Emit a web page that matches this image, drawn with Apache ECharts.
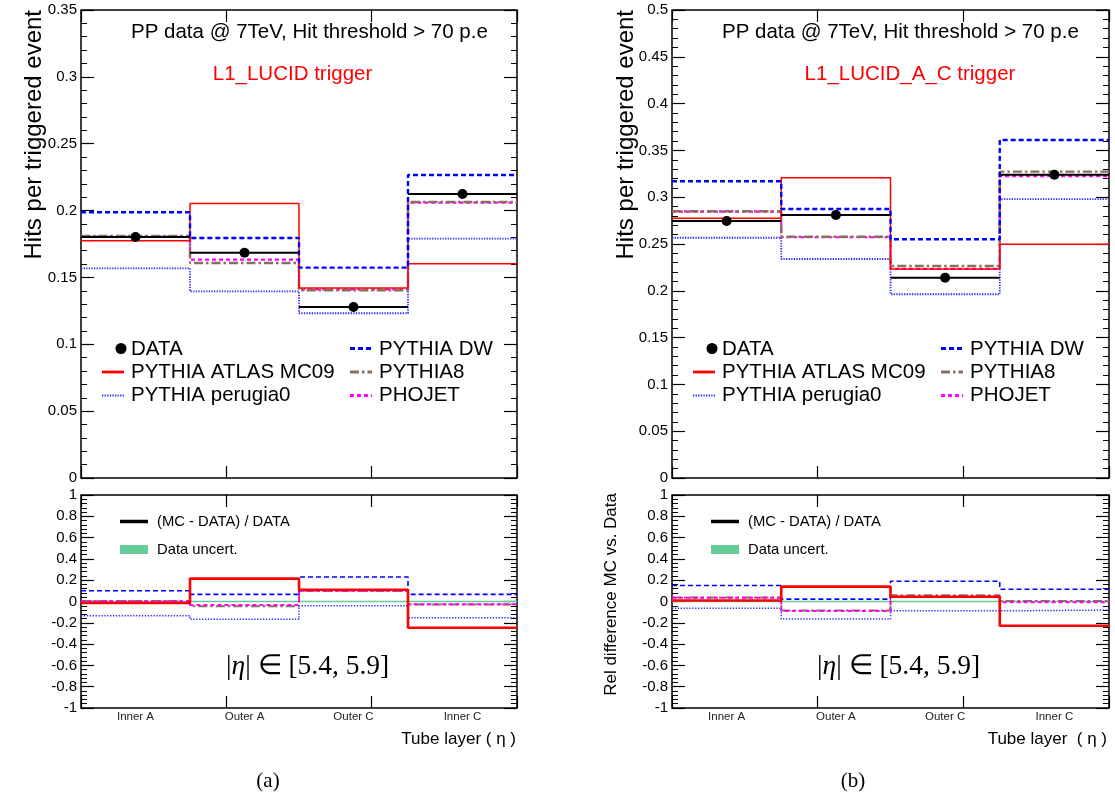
<!DOCTYPE html>
<html><head><meta charset="utf-8">
<script src="https://cdn.jsdelivr.net/npm/echarts@6/dist/echarts.min.js"></script>
<style>html,body{margin:0;padding:0;background:#fff}#c{width:1115px;height:796px}</style>
</head><body><div id="c"></div><script>
// ---------- DATA ----------
const categories = ['Inner A', 'Outer A', 'Outer C', 'Inner C'];

// (a) L1_LUCID trigger : hits per triggered event
const dataA    = [0.1802, 0.1685, 0.1279, 0.2124];
const mc09A    = [0.1775, 0.2052, 0.1421, 0.1603];
const dwA      = [0.1987, 0.1795, 0.1573, 0.2266];
const perugiaA = [0.1568, 0.1396, 0.1232, 0.1790];
const pythia8A = [0.1810, 0.1608, 0.1404, 0.2064];
const phojetA  = [0.1805, 0.1633, 0.1410, 0.2059];
// (a) relative difference (MC - DATA) / DATA
const relMc09A    = [-0.014, 0.215, 0.111, -0.246];
const relDwA      = [0.101, 0.067, 0.230, 0.067];
const relPerugiaA = [-0.133, -0.167, -0.040, -0.152];
const relPythia8A = [0.004, -0.045, 0.098, -0.028];
const relPhojetA  = [0.002, -0.032, 0.102, -0.026];
const uncertA     = [0.004, 0.004, 0.004, 0.004];

// (b) L1_LUCID_A_C trigger
const dataB    = [0.2746, 0.2810, 0.2140, 0.3240];
const mc09B    = [0.2775, 0.3209, 0.2233, 0.2497];
const dwB      = [0.3170, 0.2874, 0.2550, 0.3611];
const perugiaB = [0.2567, 0.2340, 0.1963, 0.2980];
const pythia8B = [0.2850, 0.2578, 0.2265, 0.3273];
const phojetB  = [0.2845, 0.2572, 0.2235, 0.3226];
const relMc09B    = [0.010, 0.140, 0.045, -0.228];
const relDwB      = [0.150, 0.022, 0.190, 0.115];
const relPerugiaB = [-0.064, -0.165, -0.088, -0.080];
const relPythia8B = [0.038, -0.085, 0.058, 0.005];
const relPhojetB  = [0.035, -0.090, 0.045, -0.008];
const uncertB     = [0.004, 0.004, 0.004, 0.004];

// tick labels / axis ranges
const topRangeA = {min: 0, max: 0.35, interval: 0.05, minor: 0.01};
const topRangeB = {min: 0, max: 0.5, interval: 0.05, minor: 0.01};
const ratioRange = {min: -1, max: 1, interval: 0.2, minor: 0.04};

// ---------- STYLE ----------
const SANS = 'Liberation Sans, Arial, Helvetica, sans-serif';
const SERIF = 'Liberation Serif, Times New Roman, serif';
const COL = {data:'#000000', mc09:'#ff0000', dw:'#0000ff', perugia:'#2a2aff', pythia8:'#8c6e5c', phojet:'#ff00ff', uncert:'#66cc99'};
const topStyle = {
  perugia: {color: COL.perugia, width: 1.8, type: [1.3, 1.3]},
  phojet:  {color: COL.phojet,  width: 2.2, type: [4, 3]},
  pythia8: {color: COL.pythia8, width: 2.4, type: [9, 3, 2.5, 3]},
  mc09:    {color: COL.mc09,    width: 1.5, type: 'solid'},
  dw:      {color: COL.dw,      width: 2.4, type: [5, 3]}
};
const ratioStyle = {
  perugia: {color: COL.perugia, width: 1.5, type: [1.3, 1.6]},
  phojet:  {color: COL.phojet,  width: 2.0, type: [4, 3]},
  pythia8: {color: COL.pythia8, width: 2.0, type: [9, 3, 2.5, 3]},
  mc09:    {color: COL.mc09,    width: 2.6, type: 'solid'},
  dw:      {color: COL.dw,      width: 1.6, type: [5, 3]}
};

const grids = [
  {left: 81,  top: 10,  width: 436, height: 468, ratio: false, range: topRangeA},
  {left: 81,  top: 495, width: 436, height: 213, ratio: true,  range: ratioRange},
  {left: 672, top: 10,  width: 437, height: 468, ratio: false, range: topRangeB},
  {left: 672, top: 495, width: 437, height: 213, ratio: true,  range: ratioRange}
];

const NOLINE = {show: false, onZero: false};
const xAxes = [], yAxes = [], series = [];
const dataAxisIdx = [], yIdx = [];
grids.forEach((g, gi) => {
  dataAxisIdx.push(xAxes.length);
  xAxes.push({gridIndex: gi, type: 'value', min: 0, max: 4, show: false, axisLine: NOLINE});
  ['bottom', 'top'].forEach(pos => xAxes.push({
    gridIndex: gi, type: 'value', min: 0, max: 3, interval: 1, position: pos,
    axisLine: NOLINE, axisLabel: {show: false}, splitLine: {show: false},
    axisTick: {show: true, inside: true, length: 12, lineStyle: {color: '#000', width: 1.2}}
  }));
  if (g.ratio) xAxes.push({
    gridIndex: gi, type: 'category', data: categories, position: 'bottom', boundaryGap: true,
    axisLine: NOLINE, axisTick: {show: false}, splitLine: {show: false},
    axisLabel: {show: true, color: '#222', fontSize: 11.5, fontFamily: SANS, margin: 3}
  });
  yIdx.push(yAxes.length);
  ['left', 'right'].forEach(pos => {
    // major ticks (+ labels on the left)
    yAxes.push({
      gridIndex: gi, type: 'value', min: g.range.min, max: g.range.max, interval: g.range.interval, position: pos,
      axisLine: NOLINE, splitLine: {show: false},
      axisTick: {show: true, inside: true, length: 13, lineStyle: {color: '#000', width: 1.2}},
      axisLabel: {show: pos === 'left', color: '#000', fontSize: 15, fontFamily: SANS, margin: 4}
    });
    // minor ticks
    yAxes.push({
      gridIndex: gi, type: 'value', min: g.range.min, max: g.range.max, interval: g.range.minor, position: pos,
      axisLine: NOLINE, splitLine: {show: false}, axisLabel: {show: false},
      axisTick: {show: true, inside: true, length: 6, lineStyle: {color: '#000', width: 1}}
    });
  });
});

function stepData(vals) {
  const d = [];
  vals.forEach((v, i) => { d.push([i, v]); d.push([i + 1, v]); });
  return d;
}
function stepSeries(name, vals, st, gi, z) {
  return {
    type: 'line', name: name, xAxisIndex: dataAxisIdx[gi], yAxisIndex: yIdx[gi],
    data: stepData(vals), symbol: 'none', showSymbol: false, silent: true, animation: false, z: z,
    lineStyle: {color: st.color, width: st.width, type: st.type, cap: 'butt'}
  };
}
function dataSeries(vals, gi) {
  return {
    type: 'custom', name: 'DATA', xAxisIndex: dataAxisIdx[gi], yAxisIndex: yIdx[gi], z: 20,
    data: vals.map((v, i) => [i, v]), animation: false, silent: true,
    renderItem: (params, api) => {
      const i = api.value(0), v = api.value(1);
      const a = api.coord([i, v]), b = api.coord([i + 1, v]), c = api.coord([i + 0.5, v]);
      return {type: 'group', children: [
        {type: 'line', shape: {x1: a[0], y1: a[1], x2: b[0], y2: b[1]}, style: {stroke: COL.data, lineWidth: 2}},
        {type: 'circle', shape: {cx: c[0], cy: c[1], r: 5}, style: {fill: COL.data}}
      ]};
    }
  };
}
function uncertSeries(vals, gi) {
  return {
    type: 'custom', name: 'Data uncert.', xAxisIndex: dataAxisIdx[gi], yAxisIndex: yIdx[gi], z: 1,
    data: vals.map((u, i) => [i, u]), animation: false, silent: true,
    renderItem: (params, api) => {
      const i = api.value(0), u = api.value(1);
      const a = api.coord([i, u]), b = api.coord([i + 1, -u]);
      const h = Math.max(1.5, b[1] - a[1]);
      const cy = (a[1] + b[1]) / 2;
      return {type: 'rect', shape: {x: a[0], y: cy - h / 2, width: b[0] - a[0], height: h}, style: {fill: COL.uncert}};
    }
  };
}
function topPanel(gi, d, mc09, dw, per, p8, pho) {
  series.push(stepSeries('PYTHIA perugia0', per, topStyle.perugia, gi, 3));
  series.push(stepSeries('PHOJET', pho, topStyle.phojet, gi, 4));
  series.push(stepSeries('PYTHIA8', p8, topStyle.pythia8, gi, 5));
  series.push(stepSeries('PYTHIA ATLAS MC09', mc09, topStyle.mc09, gi, 6));
  series.push(stepSeries('PYTHIA DW', dw, topStyle.dw, gi, 7));
  series.push(dataSeries(d, gi));
}
function ratioPanel(gi, unc, mc09, dw, per, p8, pho) {
  series.push(uncertSeries(unc, gi));
  series.push(stepSeries('PYTHIA perugia0', per, ratioStyle.perugia, gi, 3));
  series.push(stepSeries('PYTHIA8', p8, ratioStyle.pythia8, gi, 4));
  series.push(stepSeries('PHOJET', pho, ratioStyle.phojet, gi, 5));
  series.push(stepSeries('PYTHIA DW', dw, ratioStyle.dw, gi, 6));
  series.push(stepSeries('PYTHIA ATLAS MC09', mc09, ratioStyle.mc09, gi, 7));
}
topPanel(0, dataA, mc09A, dwA, perugiaA, pythia8A, phojetA);
ratioPanel(1, uncertA, relMc09A, relDwA, relPerugiaA, relPythia8A, relPhojetA);
topPanel(2, dataB, mc09B, dwB, perugiaB, pythia8B, phojetB);
ratioPanel(3, uncertB, relMc09B, relDwB, relPerugiaB, relPythia8B, relPhojetB);

// ---------- TEXT / LEGENDS (graphic) ----------
const graphics = [];
function txt(x, y, text, opt) {
  graphics.push(Object.assign({type: 'text', x: x, y: y, silent: true, z: 50,
    style: Object.assign({text: text, fill: '#000', fontFamily: SANS, fontSize: 20.5, align: 'left', verticalAlign: 'middle'}, opt || {})}));
}
function seg(x1, x2, y, st, w) {
  graphics.push({type: 'line', silent: true, z: 50, shape: {x1: x1, y1: y, x2: x2, y2: y},
    style: {stroke: st.color, lineWidth: w || st.width, lineDash: st.type === 'solid' ? null : st.type}});
}
function panelText(x0, trig, trigCx, tubeText) {
  txt(x0 + 50, 32, 'PP data @ 7TeV, Hit threshold > 70 p.e');
  txt(trigCx, 74, trig, {fill: '#ff0000', align: 'center'});
  // top legend
  graphics.push({type: 'circle', silent: true, z: 50, shape: {cx: x0 + 40, cy: 348.5, r: 5.5}, style: {fill: '#000'}});
  txt(x0 + 50, 349, 'DATA');
  seg(x0 + 21, x0 + 43, 372, topStyle.mc09, 2.8);
  txt(x0 + 50, 372, 'PYTHIA ATLAS MC09');
  seg(x0 + 21, x0 + 43, 395.5, topStyle.perugia, 2);
  txt(x0 + 50, 395.5, 'PYTHIA perugia0');
  seg(x0 + 269, x0 + 291, 348.5, topStyle.dw, 2.8);
  txt(x0 + 298, 349, 'PYTHIA DW');
  seg(x0 + 269, x0 + 291, 372, topStyle.pythia8, 2.8);
  txt(x0 + 298, 372, 'PYTHIA8');
  seg(x0 + 269, x0 + 291, 395.5, topStyle.phojet, 2.8);
  txt(x0 + 298, 395.5, 'PHOJET');
  // ratio legend
  seg(x0 + 39, x0 + 67, 521.5, {color: '#000', width: 3.5, type: 'solid'});
  txt(x0 + 76, 521.5, '(MC - DATA) / DATA', {fontSize: 14.8});
  graphics.push({type: 'rect', silent: true, z: 50, shape: {x: x0 + 39, y: 545, width: 28, height: 9}, style: {fill: COL.uncert}});
  txt(x0 + 76, 549.5, 'Data uncert.', {fontSize: 14.8});
  // eta range
  graphics.push({type: 'text', x: x0 + 145, y: 667, silent: true, z: 50, style: {
    text: '{n||}{i|η}{n|| ∈ [5.4, 5.9]}', align: 'left', verticalAlign: 'middle',
    rich: {n: {fontFamily: SERIF, fontSize: 27.5, fill: '#000'}, i: {fontFamily: SERIF, fontSize: 27.5, fontStyle: 'italic', fill: '#000'}}
  }});
  // x title
  txt(x0 + 435, 739, tubeText, {fontSize: 17, align: 'right'});
}
panelText(81, 'L1_LUCID trigger', 292.5, 'Tube layer ( η )');
panelText(672, 'L1_LUCID_A_C trigger', 910, 'Tube layer  ( η )');

// y titles
graphics.push({type: 'text', x: 34, y: 10, rotation: Math.PI / 2, silent: true, z: 50,
  style: {text: 'Hits per triggered event', fontFamily: SANS, fontSize: 24, fill: '#000', align: 'right', verticalAlign: 'middle'}});
graphics.push({type: 'text', x: 626, y: 10, rotation: Math.PI / 2, silent: true, z: 50,
  style: {text: 'Hits per triggered event', fontFamily: SANS, fontSize: 24, fill: '#000', align: 'right', verticalAlign: 'middle'}});
graphics.push({type: 'text', x: 611, y: 493, rotation: Math.PI / 2, silent: true, z: 50,
  style: {text: 'Rel difference MC vs. Data', fontFamily: SANS, fontSize: 17, fill: '#000', align: 'right', verticalAlign: 'middle'}});
// captions
txt(268, 781, '(a)', {fontFamily: SERIF, fontSize: 21, align: 'center'});
txt(853, 781, '(b)', {fontFamily: SERIF, fontSize: 21, align: 'center'});

const chart = echarts.init(document.getElementById('c'), null, {renderer: 'canvas'});
chart.setOption({
  animation: false,
  backgroundColor: '#ffffff',
  grid: grids.map(g => ({left: g.left, top: g.top, width: g.width, height: g.height, show: true,
    borderColor: '#000', borderWidth: 1.5, backgroundColor: 'transparent', containLabel: false})),
  xAxis: xAxes,
  yAxis: yAxes,
  series: series,
  graphic: graphics
});
</script></body></html>
